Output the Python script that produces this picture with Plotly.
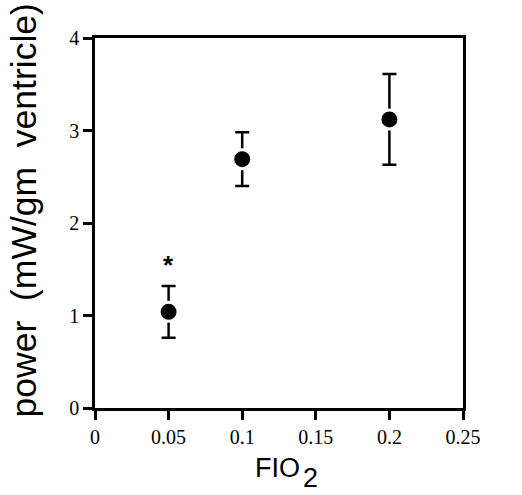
import plotly.graph_objects as go

fio2 = [0.05, 0.1, 0.2]
power = [1.04, 2.69, 3.12]
power_err = [0.28, 0.29, 0.49]
x_ticks = [0, 0.05, 0.1, 0.15, 0.2, 0.25]
x_tick_labels = ["0", "0.05", "0.1", "0.15", "0.2", "0.25"]
y_ticks = [0, 1, 2, 3, 4]
sig_x = [0.05]
sig_y = [1.55]

fig = go.Figure()
fig.add_trace(go.Scatter(
    x=fio2, y=power, mode="markers",
    marker=dict(size=19, color="black", line=dict(color="white", width=3)),
    error_y=dict(type="data", array=power_err, visible=True,
                 color="black", thickness=2.5, width=7),
    showlegend=False,
))
for sx, sy in zip(sig_x, sig_y):
    fig.add_annotation(x=sx, y=sy, text="<b>*</b>", showarrow=False,
                       font=dict(family="Liberation Sans", size=26, color="black"))

fig.add_annotation(xref="paper", yref="paper", x=-0.192, y=0.535,
                   text="power  (mW/gm  ventricle)", textangle=-90, showarrow=False,
                   xanchor="center", yanchor="middle",
                   font=dict(family="Liberation Sans", size=35.5, color="black"))
fig.add_annotation(xref="paper", yref="paper", x=0.497, y=-0.163,
                   text="FIO", showarrow=False, xanchor="center", yanchor="middle",
                   font=dict(family="Liberation Sans", size=27, color="black"))
fig.add_annotation(xref="paper", yref="paper", x=0.586, y=-0.19,
                   text="2", showarrow=False, xanchor="center", yanchor="middle",
                   font=dict(family="Liberation Sans", size=27, color="black"))

axis_common = dict(showgrid=False, zeroline=False, showline=True, linecolor="black",
                   linewidth=2.5, mirror=True, ticks="outside", ticklen=9,
                   tickwidth=2.5, tickcolor="black",
                   tickfont=dict(family="Liberation Serif, Times New Roman, serif",
                                 size=20, color="black"))
fig.update_xaxes(range=[0, 0.25], tickvals=x_ticks, ticktext=x_tick_labels, **axis_common)
fig.update_yaxes(range=[0, 4], tickvals=y_ticks, **axis_common)
fig.update_layout(width=522, height=495, plot_bgcolor="white", paper_bgcolor="white",
                  margin=dict(l=95, r=59, t=38, b=87))
fig.write_html("out.html", config={"displayModeBar": False},
               post_script="document.body.style.margin='0';document.body.style.overflow='hidden';")
